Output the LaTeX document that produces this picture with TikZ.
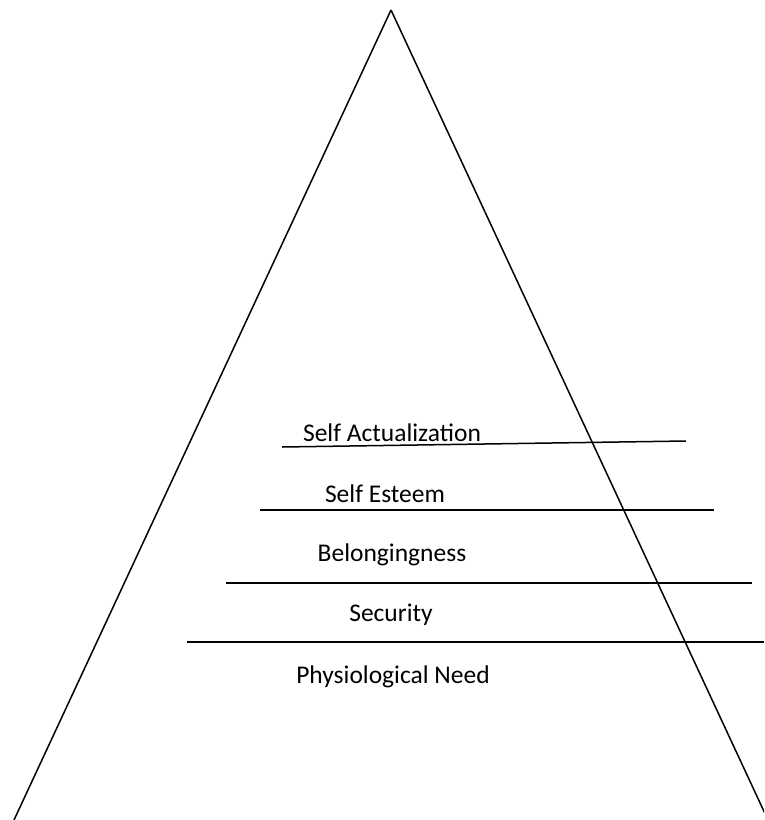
\documentclass[tikz,border=0pt]{standalone}
\usepackage{fontspec}
\setmainfont{Carlito}
\begin{document}
\begin{tikzpicture}[x=1pt,y=-1pt,line width=1.5pt]
        \tikzset{level/.style={font=\fontsize{25.5}{28}\selectfont,inner sep=0pt}}
        \useasboundingbox (0,0) rectangle (764,820);
        \clip (0,0) rectangle (764,820);
        % pyramid sides
        \coordinate (apex) at (391,10);
        \coordinate (left) at (14,820);
        \coordinate (right) at (768,820);
        \draw (apex) -- (left);
        \draw (apex) -- (right);
        %
        \coordinate (sa1) at (282,447);
        \coordinate (sa2) at (686,441);
        \draw (sa1) -- (sa2);
        \node[level] (sa) at (392,433) {Self Actualization};
        %
        \coordinate (se1) at (260,510);
        \coordinate (se2) at (714,510);
        \draw (se1) -- (se2);
        \node[level] (se) at (385,494) {Self Esteem};
        %
        \coordinate (be1) at (226,583);
        \coordinate (be2) at (752,583);
        \draw (be1) -- (be2);
        \node[level] (be) at (392,555) {Belongingness};
        %
        \coordinate (sc1) at (187,642);
        \coordinate (sc2) at (764,642);
        \draw (sc1) -- (sc2);
        \node[level] (sc) at (391,615) {Security};
        %
        \node[level] (ph) at (393,677) {Physiological Need};
\end{tikzpicture}
\end{document}
